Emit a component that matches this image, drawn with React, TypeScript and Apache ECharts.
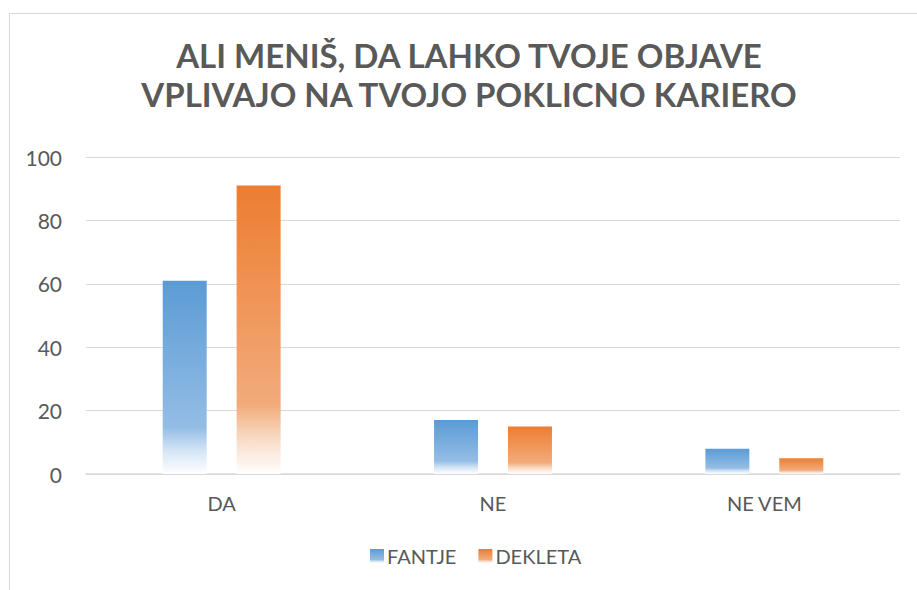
import React, { useEffect, useRef } from "react";
import * as echarts from "echarts";

const categories = ["DA", "NE", "NE VEM"];
const fantje = [61, 17, 8];
const dekleta = [91, 15, 5];
const seriesNames = ["FANTJE", "DEKLETA"];
const titleLines = ["ALI MENIŠ, DA LAHKO TVOJE OBJAVE", "VPLIVAJO NA TVOJO POKLICNO KARIERO"];
const yTicks = { min: 0, max: 100, interval: 20 };

const FONT = "Lato, 'Open Sans', sans-serif";
const TEXT = "#595959";

function grad(top: string, mid: string, bottom: string) {
  return new echarts.graphic.LinearGradient(0, 0, 0, 1, [
    { offset: 0, color: top },
    { offset: 0.76, color: mid },
    { offset: 0.88, color: bottom },
    { offset: 1, color: "#ffffff" },
  ]);
}

export default function App() {
  const ref = useRef<HTMLDivElement>(null);
  useEffect(() => {
    if (!ref.current) return;
    const chart = echarts.init(ref.current, null, { renderer: "svg" });
    chart.setOption({
      animation: false,
      backgroundColor: "#ffffff",
      textStyle: { fontFamily: FONT },
      graphic: [
        {
          type: "rect",
          shape: { x: 9.5, y: 13.5, width: 1000, height: 1000 },
          style: { fill: "none", stroke: "#D9D9D9", lineWidth: 1 },
          silent: true,
        },
        {
          type: "text",
          x: 469,
          y: 35,
          style: {
            text: titleLines.join("\n"),
            fontFamily: FONT,
            fontWeight: "bold",
            fontSize: 33,
            lineHeight: 39,
            fill: TEXT,
            align: "center",
            verticalAlign: "top",
          },
        },
      ],
      legend: {
        left: 365,
        top: 541,
        itemWidth: 14,
        itemHeight: 14,
        itemGap: 22,
        icon: "rect",
        textStyle: { fontFamily: FONT, fontSize: 20, color: TEXT, padding: [0, 0, 0, -2] },
        data: seriesNames,
      },
      grid: { left: 86, right: 17, top: 157, bottom: 116, containLabel: false },
      xAxis: {
        type: "category",
        data: categories,
        axisLine: { lineStyle: { color: "#D9D9D9", width: 1.5 } },
        axisTick: { show: false },
        axisLabel: { fontFamily: FONT, fontSize: 20, color: TEXT, margin: 19 },
      },
      yAxis: {
        type: "value",
        min: yTicks.min,
        max: yTicks.max,
        interval: yTicks.interval,
        axisLine: { show: false },
        axisTick: { show: false },
        splitLine: { lineStyle: { color: "#D9D9D9", width: 1 } },
        axisLabel: { fontFamily: FONT, fontSize: 21, color: TEXT, margin: 24 },
      },
      series: [
        {
          name: seriesNames[0],
          type: "bar",
          data: fantje,
          barWidth: 44,
          barGap: "68%",
          itemStyle: { color: grad("#5B9BD5", "#94BDE5", "#D5E5F5") },
        },
        {
          name: seriesNames[1],
          type: "bar",
          data: dekleta,
          barWidth: 44,
          itemStyle: { color: grad("#ED7D31", "#F2AB7B", "#F8DCC8") },
        },
      ],
    });
    return () => chart.dispose();
  }, []);
  return (
    <div
      ref={ref}
      style={{ position: "fixed", left: 0, top: 0, width: 917, height: 590 }}
    />
  );
}
